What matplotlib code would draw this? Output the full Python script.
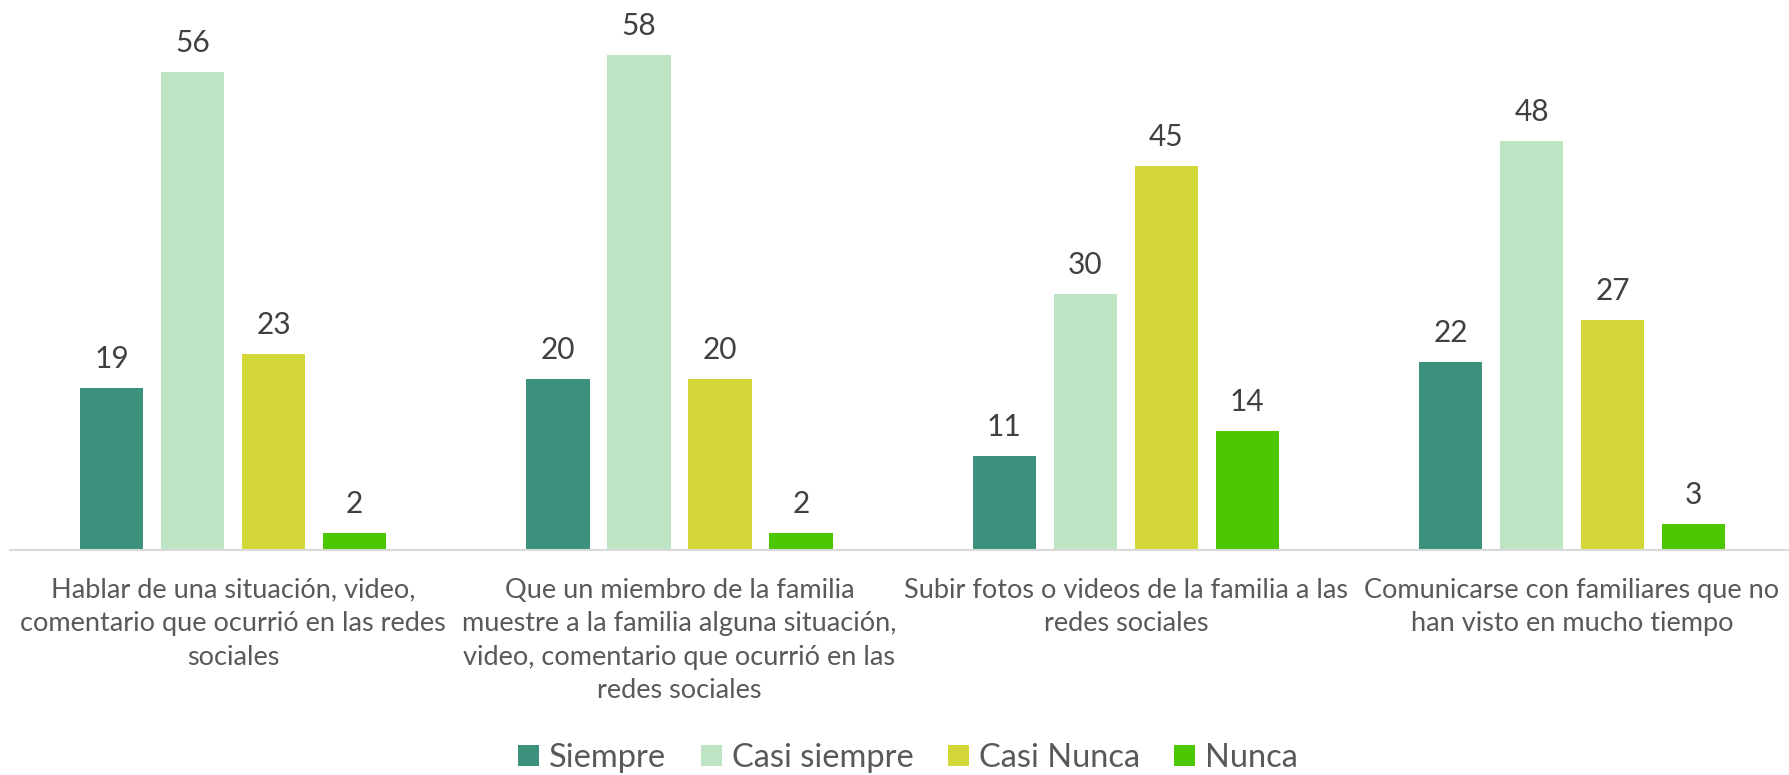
import matplotlib
matplotlib.use("Agg")
import matplotlib.pyplot as plt
from matplotlib.patches import Patch
import numpy as np

plt.rcParams['font.family'] = ['Lato', 'DejaVu Sans']

categories = [
    "Hablar de una situación, video,\ncomentario que ocurrió en las redes\nsociales",
    "Que un miembro de la familia\nmuestre a la familia alguna situación,\nvideo, comentario que ocurrió en las\nredes sociales",
    "Subir fotos o videos de la familia a las\nredes sociales",
    "Comunicarse con familiares que no\nhan visto en mucho tiempo",
]
series_names = ["Siempre", "Casi siempre", "Casi Nunca", "Nunca"]
siempre = [19, 20, 11, 22]
casi_siempre = [56, 58, 30, 48]
casi_nunca = [23, 20, 45, 27]
nunca = [2, 2, 14, 3]
series_values = [siempre, casi_siempre, casi_nunca, nunca]
colors = ["#3B917C", "#BDE5C4", "#D3D637", "#4DC800"]

W, H = 1789, 775
fig = plt.figure(figsize=(W / 100, H / 100), dpi=100)
ax_left, ax_right = 10, 1789
ax_bottom, ax_top = 550, 0
ax = fig.add_axes([ax_left / W, (H - ax_bottom) / H, (ax_right - ax_left) / W, (ax_bottom - ax_top) / H])

group_px = 446.3
step = 81 / group_px
width = 63.5 / group_px
x = np.arange(len(categories))
for i, (name, vals, c) in enumerate(zip(series_names, series_values, colors)):
    pos = x + (i - 1.5) * step
    bars = ax.bar(pos, vals, width=width, color=c, label=name, zorder=2)
    for b, v in zip(bars, vals):
        ax.annotate(str(v), (b.get_x() + b.get_width() / 2, v), xytext=(0, 15),
                    textcoords="offset pixels", ha="center", va="bottom",
                    fontsize=21.5, color="#404040")

ax.set_xlim(-0.5, -0.5 + (ax_right - ax_left) / group_px)
ax.set_ylim(0, 550 / 8.53)
for s in ["top", "right", "left"]:
    ax.spines[s].set_visible(False)
ax.spines["bottom"].set_color("#D9D9D9")
ax.spines["bottom"].set_linewidth(1.5)
ax.set_yticks([])
ax.set_xticks(x)
ax.set_xticklabels(categories, fontsize=19.5, color="#595959", linespacing=1.42)
ax.tick_params(axis="x", length=0, pad=20)

handles = [Patch(facecolor=c, edgecolor="none") for c in colors]
fig.legend(handles, series_names, loc="center", bbox_to_anchor=(908 / W, 17 / H),
           ncol=4, frameon=False, fontsize=23.5, labelcolor="#595959",
           handlelength=0.65, handleheight=0.65, handletextpad=0.3, columnspacing=1.05)

fig.savefig("out.png", dpi=100, facecolor="white")
